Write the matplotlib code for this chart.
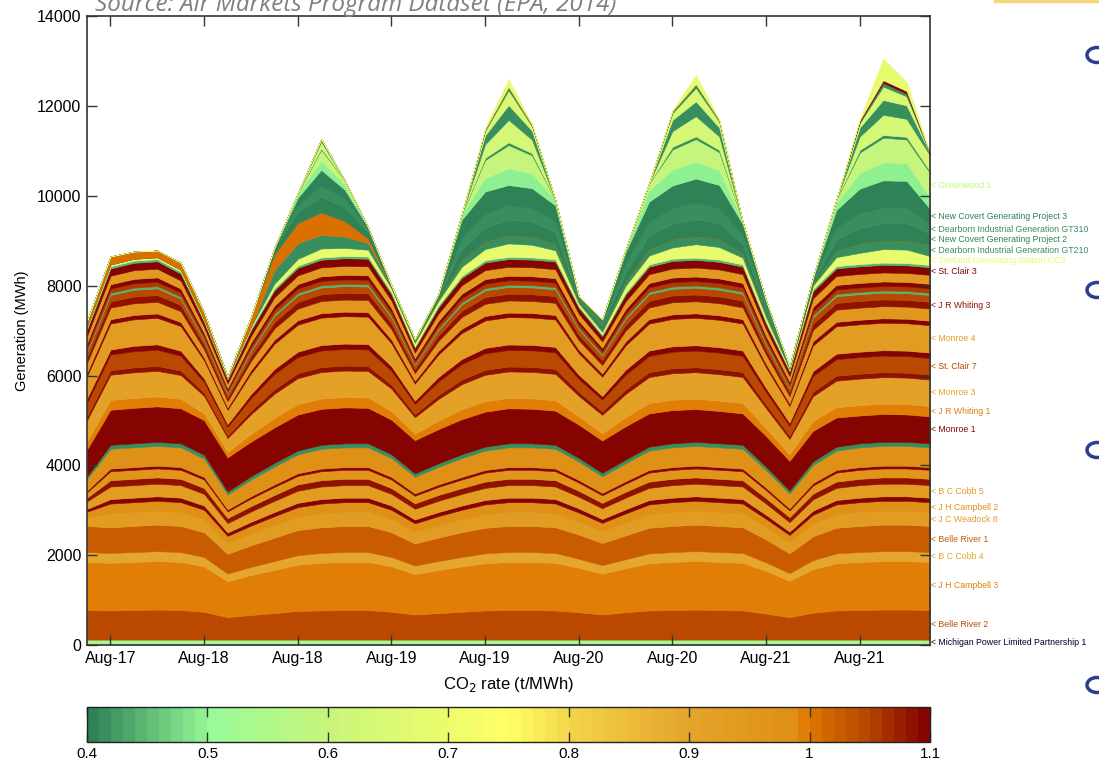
import matplotlib
matplotlib.use('Agg')
import numpy as np
import matplotlib.pyplot as plt
from matplotlib import font_manager
from matplotlib.colors import LinearSegmentedColormap, Normalize
from matplotlib.cm import ScalarMappable
from matplotlib.patches import Ellipse

# hours since the first "Aug-17" tick
hours = [-3, 0, 3, 6, 9, 12, 15, 18, 21, 24, 27, 30, 33, 36, 39, 42, 45, 48, 51,
         54, 57, 60, 63, 66, 69, 72, 75, 78, 81, 84, 87, 90, 93, 96, 99, 102, 105]
tick_hours = [0, 12, 24, 36, 48, 60, 72, 84, 96]
tick_labels = ['Aug-17', 'Aug-18', 'Aug-18', 'Aug-19', 'Aug-19',
               'Aug-20', 'Aug-20', 'Aug-21', 'Aug-21']
cbar_ticks = [0.4, 0.5, 0.6, 0.7, 0.8, 0.9, 1.0, 1.1]
cbar_labels = ['0.4', '0.5', '0.6', '0.7', '0.8', '0.9', '1', '1.1']

# --- generation by unit (MWh), bottom of the stack first ---
michigan_1 = [120, 120, 120, 120, 120, 120, 120, 120, 120, 120, 120, 120, 120, 120, 120, 120, 120, 120, 120,
              120, 120, 120, 120, 120, 120, 120, 120, 120, 120, 120, 120, 120, 120, 120, 120, 120, 120]
belle_river_2 = [660, 650, 660, 670, 660, 620, 500, 550, 590, 640, 650, 660, 660, 620, 560, 590, 620, 650, 660,
                 660, 650, 610, 560, 610, 650, 660, 670, 660, 650, 580, 500, 600, 650, 660, 670, 670, 660]
jh_campbell_3 = [1070, 1060, 1070, 1080, 1070, 1010, 800, 890, 960, 1030, 1060, 1070, 1070, 1010, 900, 960, 1010,
                 1050, 1070, 1070, 1060, 990, 910, 980, 1050, 1070, 1080, 1070, 1060, 950, 810, 970, 1050, 1070,
                 1080, 1080, 1070]
bc_cobb_4 = [220, 220, 220, 220, 220, 210, 170, 180, 200, 210, 220, 220, 220, 210, 190, 200, 210, 220, 220,
             220, 220, 200, 190, 200, 220, 220, 220, 220, 220, 190, 170, 200, 220, 220, 220, 220, 220]
belle_river_1 = [580, 570, 580, 590, 580, 550, 440, 480, 520, 560, 570, 580, 580, 550, 490, 520, 550, 570, 580,
                 580, 570, 540, 490, 530, 570, 580, 590, 580, 570, 510, 440, 530, 570, 580, 590, 590, 580]
jc_weadock_8 = [190, 310, 310, 310, 310, 290, 230, 260, 280, 300, 310, 310, 310, 290, 260, 280, 290, 300, 310,
                310, 310, 290, 260, 290, 300, 310, 310, 310, 310, 270, 240, 280, 300, 310, 310, 310, 310]
jh_campbell_2 = [130, 220, 220, 220, 220, 210, 170, 180, 200, 210, 220, 220, 220, 210, 190, 200, 210, 220, 220,
                 220, 220, 200, 190, 200, 220, 220, 220, 220, 220, 190, 170, 200, 220, 220, 220, 220, 220]
coal_a = [60, 99, 100, 101, 100, 94, 75, 83, 90, 96, 99, 100, 100, 94, 84, 90, 94, 98, 100,
          100, 99, 92, 85, 92, 98, 100, 101, 100, 99, 88, 76, 91, 98, 100, 101, 101, 100]
bc_cobb_5 = [170, 280, 280, 280, 280, 260, 210, 230, 250, 270, 280, 280, 280, 260, 240, 250, 260, 270, 280,
             280, 280, 260, 240, 260, 270, 280, 280, 280, 280, 250, 210, 250, 270, 280, 280, 280, 280]
coal_b = [80, 140, 140, 140, 140, 130, 110, 120, 130, 140, 140, 140, 140, 130, 120, 130, 130, 140, 140,
          140, 140, 130, 120, 130, 140, 140, 140, 140, 140, 120, 110, 130, 140, 140, 140, 140, 140]
coal_c = [120, 200, 200, 200, 200, 190, 150, 170, 180, 190, 200, 200, 200, 190, 170, 180, 190, 200, 200,
          200, 200, 185, 170, 180, 200, 200, 200, 200, 200, 180, 150, 180, 200, 200, 200, 200, 200]
coal_d = [40, 59, 60, 61, 60, 56, 45, 50, 54, 58, 59, 60, 60, 57, 51, 54, 57, 59, 60,
          60, 59, 56, 51, 55, 59, 60, 61, 60, 59, 53, 46, 55, 59, 60, 61, 61, 60]
coal_e = [260, 440, 440, 440, 440, 410, 330, 370, 400, 420, 440, 440, 440, 420, 370, 390, 420, 430, 440,
          440, 440, 410, 370, 400, 430, 440, 440, 440, 440, 390, 330, 400, 430, 440, 440, 440, 440]
gas_a = [55, 89, 90, 91, 90, 85, 68, 75, 81, 87, 89, 90, 90, 85, 76, 81, 85, 88, 90,
         90, 89, 83, 77, 83, 88, 90, 91, 90, 89, 80, 68, 82, 88, 90, 91, 91, 90]
monroe_1 = [600, 780, 790, 790, 780, 770, 760, 770, 790, 800, 800, 800, 790, 770, 740, 760, 780, 780, 780,
            770, 760, 740, 720, 740, 740, 740, 730, 720, 700, 680, 660, 680, 650, 620, 620, 610, 600]
jr_whiting_1 = [180, 220, 220, 220, 210, 150, 120, 170, 210, 230, 230, 230, 230, 190, 140, 190, 220, 230, 230,
                230, 230, 180, 160, 200, 230, 230, 230, 230, 230, 170, 140, 220, 230, 230, 230, 230, 230]
monroe_3 = [470, 560, 570, 570, 530, 390, 310, 440, 540, 580, 590, 590, 590, 500, 370, 480, 560, 590, 590,
            590, 590, 460, 410, 520, 580, 590, 590, 590, 580, 450, 350, 550, 590, 590, 590, 590, 590]
coal_f = [90, 100, 110, 110, 100, 70, 60, 80, 100, 110, 110, 110, 110, 90, 70, 90, 100, 110, 110,
          110, 110, 90, 80, 100, 110, 110, 110, 110, 110, 80, 70, 100, 110, 110, 110, 110, 110]
st_clair_7 = [300, 350, 360, 360, 330, 240, 190, 280, 340, 360, 370, 370, 370, 310, 230, 300, 350, 370, 370,
              370, 370, 290, 260, 330, 360, 370, 370, 370, 360, 280, 220, 350, 370, 370, 370, 370, 370]
coal_g = [100, 110, 120, 120, 110, 80, 60, 90, 110, 120, 120, 120, 120, 100, 70, 100, 110, 120, 120,
          120, 120, 90, 80, 110, 120, 120, 120, 120, 120, 90, 70, 110, 120, 120, 120, 120, 120]
monroe_4 = [490, 580, 590, 590, 550, 400, 320, 460, 560, 600, 610, 610, 610, 510, 380, 500, 580, 610, 610,
            610, 610, 480, 430, 540, 600, 610, 610, 610, 600, 460, 370, 570, 610, 610, 610, 610, 610]
coal_h = [80, 95, 97, 97, 90, 66, 52, 75, 92, 98, 100, 100, 100, 84, 62, 82, 95, 100, 100,
          100, 100, 78, 70, 88, 98, 100, 100, 100, 98, 76, 60, 94, 100, 100, 100, 100, 100]
coal_j = [220, 260, 260, 260, 240, 180, 140, 200, 250, 260, 270, 270, 270, 230, 170, 220, 260, 270, 270,
          270, 270, 210, 190, 240, 260, 270, 270, 270, 260, 210, 160, 250, 270, 270, 270, 270, 270]
jr_whiting_3 = [120, 140, 150, 150, 140, 100, 80, 110, 140, 150, 150, 150, 150, 130, 90, 120, 140, 150, 150,
                150, 150, 120, 105, 130, 150, 150, 150, 150, 150, 110, 90, 140, 150, 150, 150, 150, 150]
coal_l = [120, 140, 150, 150, 140, 100, 80, 110, 140, 150, 150, 150, 150, 130, 90, 120, 140, 150, 150,
          150, 150, 120, 105, 130, 150, 150, 150, 150, 150, 110, 90, 140, 150, 150, 150, 150, 150]
gas_b = [40, 48, 49, 49, 45, 33, 26, 38, 46, 49, 50, 50, 50, 42, 31, 41, 48, 50, 50,
         50, 50, 39, 35, 44, 49, 50, 50, 50, 49, 38, 30, 47, 50, 50, 50, 50, 50]
coal_k = [80, 95, 97, 97, 90, 66, 52, 75, 92, 98, 100, 100, 100, 84, 62, 82, 95, 100, 100,
          100, 100, 78, 70, 88, 98, 100, 100, 100, 98, 76, 60, 94, 100, 100, 100, 100, 100]
coal_m = [80, 95, 97, 97, 90, 66, 52, 75, 92, 98, 100, 100, 100, 84, 62, 82, 95, 100, 100,
          100, 100, 78, 70, 88, 98, 100, 100, 100, 98, 76, 60, 94, 100, 100, 100, 100, 100]
coal_n = [160, 190, 194, 194, 180, 132, 104, 150, 184, 196, 200, 200, 200, 168, 124, 164, 190, 200, 200,
          200, 200, 156, 140, 176, 196, 200, 200, 200, 196, 152, 120, 188, 200, 200, 200, 200, 200]
st_clair_3 = [136, 162, 165, 165, 153, 112, 88, 128, 156, 167, 170, 170, 170, 143, 105, 139, 162, 170, 170,
              170, 170, 133, 119, 150, 167, 170, 170, 170, 167, 129, 102, 160, 170, 170, 170, 170, 170]
gas_c = [40, 48, 49, 49, 45, 33, 26, 38, 46, 49, 50, 50, 50, 42, 31, 41, 48, 50, 50,
         50, 50, 39, 35, 44, 49, 50, 50, 50, 49, 38, 30, 47, 50, 50, 50, 50, 50]
zeeland_cc3 = [30, 40, 40, 40, 40, 30, 20, 40, 100, 150, 200, 180, 150, 80, 80, 100, 200, 250, 300,
               280, 200, 60, 60, 150, 200, 250, 300, 280, 150, 100, 30, 80, 200, 250, 300, 300, 200]
dearborn_gt210 = [0, 0, 0, 0, 0, 0, 0, 0, 300, 350, 300, 250, 150, 40, 40, 60, 150, 180, 180,
                  180, 150, 40, 50, 100, 150, 180, 180, 180, 100, 60, 15, 40, 150, 200, 200, 200, 250]
orange_unit = [120, 180, 160, 150, 160, 150, 20, 215, 350, 450, 500, 350, 100, 0, 0, 0, 0, 0, 0,
               0, 0, 0, 0, 0, 0, 0, 0, 0, 0, 0, 0, 0, 0, 0, 0, 0, 0]
new_covert_2 = [0, 0, 0, 0, 0, 0, 0, 0, 150, 250, 350, 300, 150, 30, 38, 46, 250, 300, 350,
                330, 250, 40, 80, 200, 300, 350, 380, 350, 200, 100, 12, 45, 250, 350, 380, 380, 250]
dearborn_gt310 = [0, 0, 0, 0, 0, 0, 0, 0, 0, 150, 250, 200, 50, 0, 0, 0, 250, 300, 320,
                  300, 250, 40, 70, 200, 300, 350, 350, 330, 200, 100, 10, 45, 250, 330, 350, 350, 200]
new_covert_3 = [0, 0, 0, 0, 0, 0, 0, 0, 0, 160, 350, 200, 50, 0, 0, 40, 400, 500, 450,
                450, 350, 40, 76, 250, 450, 500, 550, 520, 250, 112, 10, 45, 400, 550, 600, 600, 350]
gas_light = [0, 0, 0, 0, 0, 0, 0, 0, 0, 100, 200, 120, 0, 0, 0, 0, 118, 300, 370,
             330, 124, 0, 0, 54, 250, 350, 380, 330, 51, 0, 0, 0, 150, 350, 400, 400, 250]
greenwood_1 = [0, 0, 0, 0, 0, 0, 0, 0, 0, 0, 250, 90, 0, 0, 0, 0, 0, 400, 520,
               400, 0, 0, 0, 0, 154, 450, 500, 400, 0, 0, 0, 0, 77, 450, 550, 520, 550]
peak_a = [0, 0, 0, 0, 0, 0, 0, 0, 0, 0, 30, 0, 0, 0, 0, 0, 0, 50, 60,
          50, 0, 0, 0, 0, 0, 60, 60, 50, 0, 0, 0, 0, 0, 60, 60, 60, 40]
peak_b = [0, 0, 0, 0, 0, 0, 0, 0, 0, 0, 150, 0, 0, 0, 0, 0, 0, 300, 500,
          300, 0, 0, 0, 0, 0, 350, 450, 300, 0, 0, 0, 0, 0, 300, 450, 400, 350]
peak_c = [0, 0, 0, 0, 0, 0, 0, 0, 0, 0, 54, 0, 0, 0, 0, 0, 0, 200, 330,
          200, 0, 0, 0, 0, 0, 250, 330, 200, 0, 0, 0, 0, 0, 200, 330, 300, 50]
peak_d = [0, 0, 0, 0, 0, 0, 0, 0, 0, 0, 0, 0, 0, 0, 0, 0, 0, 100, 330,
          100, 0, 0, 0, 0, 0, 150, 300, 130, 0, 0, 0, 0, 0, 100, 300, 200, 0]
peak_e = [0, 0, 0, 0, 0, 0, 0, 0, 0, 0, 0, 0, 0, 0, 0, 0, 0, 30, 70,
          30, 0, 0, 0, 0, 0, 40, 80, 30, 0, 0, 0, 0, 0, 30, 80, 60, 0]
oil_peak = [0, 0, 0, 0, 0, 0, 0, 0, 0, 0, 0, 0, 0, 0, 0, 0, 0, 0, 0,
            0, 0, 0, 0, 0, 0, 0, 0, 0, 0, 0, 0, 0, 0, 30, 60, 60, 0]
peak_f = [0, 0, 0, 0, 0, 0, 0, 0, 0, 0, 0, 0, 0, 0, 0, 0, 0, 37, 180,
          20, 0, 0, 0, 0, 0, 20, 206, 20, 0, 0, 0, 0, 0, 20, 480, 200, 0]

layers = [michigan_1, belle_river_2, jh_campbell_3, bc_cobb_4, belle_river_1, jc_weadock_8,
          jh_campbell_2, coal_a, bc_cobb_5, coal_b, coal_c, coal_d, coal_e, gas_a, monroe_1,
          jr_whiting_1, monroe_3, coal_f, st_clair_7, coal_g, monroe_4, coal_h, coal_j,
          jr_whiting_3, coal_l, gas_b, coal_k, coal_m, coal_n, st_clair_3, gas_c,
          zeeland_cc3, dearborn_gt210, orange_unit, new_covert_2, dearborn_gt310, new_covert_3,
          gas_light, greenwood_1, peak_a, peak_b, peak_c, peak_d, peak_e, oil_peak, peak_f]

# CO2 rate of each unit (t/MWh), same order
layer_rates = [0.53, 1.04, 1.0, 0.9, 1.03, 0.93, 0.99, 1.09, 0.93, 1.08, 0.97, 1.1, 0.99, 0.42, 1.09,
               1.0, 0.92, 1.08, 1.04, 1.09, 0.93, 1.09, 0.96, 1.08, 1.04, 0.45, 1.05, 1.09, 0.95, 1.09, 0.45,
               0.68, 0.42, 1.01, 0.41, 0.42, 0.41, 0.5, 0.6, 0.42, 0.64, 0.42, 0.65, 0.42, 1.1, 0.68]

# right-hand labels (None = unlabelled)
layer_names = ['Michigan Power Limited Partnership 1', 'Belle River 2', 'J H Campbell 3', 'B C Cobb 4',
               'Belle River 1', 'J C Weadock 8', 'J H Campbell 2', None, 'B C Cobb 5', None, None, None,
               None, None, 'Monroe 1', 'J R Whiting 1', 'Monroe 3', None, 'St. Clair 7', None, 'Monroe 4',
               None, None, 'J R Whiting 3', None, None, None, None, None, 'St. Clair 3', None,
               'Zeeland Generating Station CC3', 'Dearborn Industrial Generation GT210', None,
               'New Covert Generating Project 2', 'Dearborn Industrial Generation GT310',
               'New Covert Generating Project 3', None, 'Greenwood 1', None, None, None, None, None,
               None, None]


def pick_font(name, fallback):
    try:
        font_manager.findfont(name, fallback_to_default=False)
        return name
    except Exception:
        return fallback


narrow = pick_font('Liberation Sans Narrow', 'Liberation Sans')
label_size = 7 if narrow == 'Liberation Sans Narrow' else 6.3
plt.rcParams['font.family'] = ['Liberation Sans', 'DejaVu Sans']

# colour scale: green (clean) -> yellow -> orange -> dark red (dirty)
cmap = LinearSegmentedColormap.from_list('co2', [
    (0.0, '#2e8256'), (0.1429, '#98fb98'), (0.2857, '#c9f57a'), (0.5, '#ffff66'),
    (0.5714, '#f3d64a'), (0.7143, '#e5a52c'), (0.85, '#df8e14'), (0.8571, '#e07800'),
    (0.9286, '#b84800'), (1.0, '#850300')], N=70)
norm = Normalize(vmin=0.4, vmax=1.1)
colors = [cmap(norm(r)) for r in layer_rates]

fig = plt.figure(figsize=(10.99, 7.67), dpi=100)
ax = fig.add_axes([0.0792, 0.159, 0.767, 0.820])

polys = ax.stackplot(hours, *layers, colors=colors, linewidth=0.4)
for p, c in zip(polys, colors):
    p.set_edgecolor(c)

ax.set_xlim(-3, 105)
ax.set_ylim(0, 14000)
ax.set_xticks(tick_hours)
ax.set_xticklabels(tick_labels)
ax.set_yticks(range(0, 14001, 2000))
ax.tick_params(direction='in', length=7, width=1, top=True, right=True,
               labelsize=11.5, color='#333333', pad=4)
for s in ax.spines.values():
    s.set_color('#333333')
    s.set_linewidth(1.2)
ax.set_ylabel('Generation (MWh)', fontsize=10.5, labelpad=6)

# unit labels at the right edge
stack = np.cumsum(np.array(layers, dtype=float), axis=0)
for i, name in enumerate(layer_names):
    if name is None:
        continue
    ymid = stack[i, -1] - layers[i][-1] / 2.0
    col = '#000033' if i == 0 else colors[i]
    ax.annotate('< ' + name, xy=(1.0, ymid), xycoords=('axes fraction', 'data'),
                xytext=(1, 0), textcoords='offset points', ha='left', va='center',
                fontsize=label_size, color=col, family=[narrow, 'DejaVu Sans'],
                annotation_clip=False)

fig.text(0.4623, 0.108, 'CO$_2$ rate (t/MWh)', ha='center', va='center', fontsize=12)

# colour bar
cax = fig.add_axes([0.0792, 0.0326, 0.767, 0.0456])
cb = fig.colorbar(ScalarMappable(norm=norm, cmap=cmap), cax=cax, orientation='horizontal')
cb.set_ticks(cbar_ticks)
cb.set_ticklabels(cbar_labels)
cax.tick_params(direction='in', length=7, width=1, top=True, bottom=True,
                labelsize=11, color='#333333')
cb.outline.set_edgecolor('#222222')
cb.outline.set_linewidth(1.0)

# slide remnants: source note (cut at the top) and decoration
fig.text(0.0865, 1 - 11 / 767, 'Source: Air Markets Program Dataset (EPA, 2014)', ha='left',
         va='baseline', fontsize=17.5, style='italic', color='#808080',
         family=['Open Sans', 'DejaVu Sans'])
fig.add_artist(plt.Line2D([995 / 1099, 1.0], [1 - 1 / 767, 1 - 1 / 767], color='#f7d77a', lw=2.5))
for yy in [55, 290, 450, 685]:
    fig.add_artist(Ellipse((1097 / 1099, 1 - yy / 767), 20 / 1099, 15 / 767,
                           transform=fig.transFigure, fill=False, lw=2.5, ec='#2b3d8f'))

fig.savefig('out.png', dpi=100)
plt.close(fig)
print('saved out.png')
